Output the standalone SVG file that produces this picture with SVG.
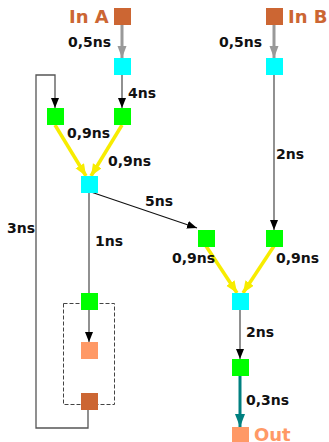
<svg xmlns="http://www.w3.org/2000/svg" width="329" height="442" viewBox="0 0 329 442">
<style>
.lbl{font-family:"DejaVu Sans",sans-serif;font-weight:bold;font-size:14px;fill:#111}
.io{font-family:"DejaVu Sans",sans-serif;font-weight:bold;font-size:18px}
.cy{fill:#00ffff}
.gr{fill:#00ff00}
.thin{fill:none;stroke:#555;stroke-width:1.3}
.gray{fill:none;stroke:#999;stroke-width:3}
.yel{fill:none;stroke:#f7ec00;stroke-width:3.5}
.teal{fill:none;stroke:#008080;stroke-width:3}
</style>
<defs>
<marker id="ab" markerUnits="userSpaceOnUse" markerWidth="12" markerHeight="10" refX="10" refY="4" orient="auto"><path d="M0,0 L10,4 L0,8 Z" fill="#000"/></marker>
<marker id="ag" markerUnits="userSpaceOnUse" markerWidth="14" markerHeight="10" refX="12" refY="4.5" orient="auto"><path d="M0,0 L12,4.5 L0,9 Z" fill="#999"/></marker>
<marker id="ay" markerUnits="userSpaceOnUse" markerWidth="14" markerHeight="12" refX="12" refY="5" orient="auto"><path d="M0,0 L12,5 L0,10 Z" fill="#f7ec00"/></marker>
<marker id="at" markerUnits="userSpaceOnUse" markerWidth="15" markerHeight="12" refX="13" refY="5" orient="auto"><path d="M0,0 L13,5 L0,10 Z" fill="#008080"/></marker>
</defs>
<g id="connectors">
<line class="gray" x1="122" y1="24" x2="122" y2="58" marker-end="url(#ag)"/>
<line class="gray" x1="274" y1="24" x2="274" y2="58" marker-end="url(#ag)"/>
<line class="thin" x1="122" y1="75" x2="122" y2="108" marker-end="url(#ab)"/>
<polyline class="thin" points="88,410 88,428 36,428 36,75 55,75 55,108" marker-end="url(#ab)"/>
<line class="yel" x1="55" y1="125" x2="86" y2="176" marker-end="url(#ay)"/>
<line class="yel" x1="122" y1="125" x2="91" y2="176" marker-end="url(#ay)"/>
<line class="thin" x1="89" y1="193" x2="89" y2="293"/>
<line fill="none" stroke="#111" stroke-width="1.1" x1="88" y1="191" x2="197" y2="228" marker-end="url(#ab)"/>
<line class="thin" x1="89" y1="310" x2="89" y2="342" marker-end="url(#ab)"/>
<line class="thin" x1="274" y1="75" x2="274" y2="230" marker-end="url(#ab)"/>
<line class="yel" x1="206" y1="246" x2="237" y2="293" marker-end="url(#ay)"/>
<line class="yel" x1="274" y1="246" x2="243" y2="293" marker-end="url(#ay)"/>
<line class="thin" x1="240" y1="310" x2="240" y2="359" marker-end="url(#ab)"/>
<line class="teal" x1="240" y1="375" x2="240" y2="427" marker-end="url(#at)"/>
<rect x="63.5" y="303.5" width="51" height="101" fill="none" stroke="#444" stroke-width="1" stroke-dasharray="4,2"/>
</g>
<g id="inA"><rect x="114" y="8" width="17" height="17" fill="#cc6633"/><text class="io" x="69" y="23" fill="#cc6633">In A</text></g>
<g id="inB"><rect x="266" y="8" width="17" height="17" fill="#cc6633"/><text class="io" x="288" y="23" fill="#cc6633">In B</text></g>
<g id="c1"><rect class="cy" x="114" y="58" width="17" height="17"/></g>
<g id="cB"><rect class="cy" x="266" y="58" width="17" height="17"/></g>
<g id="g1"><rect class="gr" x="47" y="108" width="17" height="17"/></g>
<g id="g2"><rect class="gr" x="114" y="108" width="17" height="17"/></g>
<g id="c2"><rect class="cy" x="81" y="176" width="17" height="17"/></g>
<g id="g4"><rect class="gr" x="198" y="230" width="17" height="17"/></g>
<g id="g5"><rect class="gr" x="266" y="230" width="17" height="17"/></g>
<g id="g3"><rect class="gr" x="81" y="293" width="17" height="17"/></g>
<g id="c3"><rect class="cy" x="232" y="293" width="17" height="17"/></g>
<g id="s1"><rect x="81" y="342" width="17" height="17" fill="#ff9966"/></g>
<g id="g6"><rect class="gr" x="232" y="359" width="17" height="17"/></g>
<g id="o1"><rect x="81" y="393" width="17" height="17" fill="#cc6633"/></g>
<g id="out"><rect x="232" y="427" width="17" height="17" fill="#ff9966"/><text class="io" x="254" y="441" fill="#ff9966">Out</text></g>
<g id="labels">
<text class="lbl" x="68" y="47">0,5ns</text>
<text class="lbl" x="219" y="47">0,5ns</text>
<text class="lbl" x="128" y="98">4ns</text>
<text class="lbl" x="67" y="138">0,9ns</text>
<text class="lbl" x="108" y="166">0,9ns</text>
<text class="lbl" x="145" y="206">5ns</text>
<text class="lbl" x="276" y="159">2ns</text>
<text class="lbl" x="7" y="233">3ns</text>
<text class="lbl" x="95" y="246">1ns</text>
<text class="lbl" x="172" y="263">0,9ns</text>
<text class="lbl" x="276" y="263">0,9ns</text>
<text class="lbl" x="246" y="337">2ns</text>
<text class="lbl" x="246" y="405">0,3ns</text>
</g>
</svg>
